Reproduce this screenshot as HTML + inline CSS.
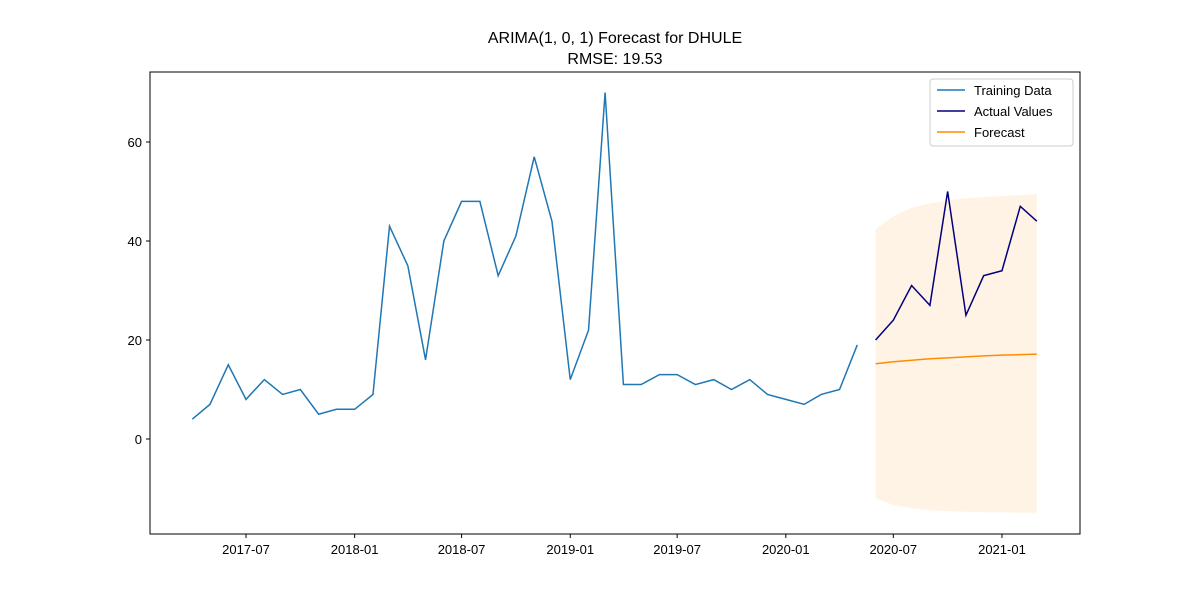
<!DOCTYPE html>
<html><head><meta charset="utf-8"><style>
body{margin:0;background:#fff;font-family:"Liberation Sans","DejaVu Sans",sans-serif;}
svg text{font-family:"Liberation Sans","DejaVu Sans",sans-serif;}
</style></head><body>
<svg id="chart" width="1200" height="600" xmlns="http://www.w3.org/2000/svg">
<rect width="1200" height="600" fill="#fff"/>
<text x="615" y="43" font-size="16" text-anchor="middle">ARIMA(1, 0, 1) Forecast for DHULE</text>
<text x="615" y="64" font-size="16" text-anchor="middle">RMSE: 19.53</text>
<g id="plot"></g>
</svg>
<script>
const trainStart = [2017, 4];
const trainValues = [4,7,15,8,12,9,10,5,6,6,9,43,35,16,40,48,48,33,41,57,44,12,22,70,11,11,13,13,11,12,10,12,9,8,7,9,10,19];
const testStart = [2020, 6];
const actualValues = [20,24,31,27,50,25,33,34,47,44];
const forecastValues = [15.2,15.6,15.9,16.2,16.4,16.6,16.8,16.95,17.05,17.15];
const ciUpper = [42.4,45,46.7,47.6,48.2,48.6,48.9,49.1,49.3,49.5];
const ciLower = [-12,-13.3,-14,-14.4,-14.6,-14.7,-14.8,-14.8,-14.9,-14.9];
const yTicks = [0,20,40,60];
const xTicks = ["2017-07","2018-01","2018-07","2019-01","2019-07","2020-01","2020-07","2021-01"];

const L=150,R=1080,T=72,B=534;
const NS='http://www.w3.org/2000/svg';
const g=document.getElementById('plot');
const ref=Date.UTC(2017,6,1);
function xs(y,m){return 246+(Date.UTC(y,m-1,1)-ref)/86400000*0.5906;}
function ys(v){return 439-v*4.95;}
function monthX(start,i){let m=start[1]-1+i;return xs(start[0]+Math.floor(m/12),(m%12)+1);}
function el(t,a){const e=document.createElementNS(NS,t);for(const k in a)e.setAttribute(k,a[k]);g.appendChild(e);return e;}

let pts=ciUpper.map((v,i)=>monthX(testStart,i)+','+ys(v));
for(let i=ciLower.length-1;i>=0;i--)pts.push(monthX(testStart,i)+','+ys(ciLower[i]));
const band=el('polygon',{points:pts.join(' '),fill:'#ff8c00','fill-opacity':0.1});



function line(vals,start,color,name){
  const p=el('polyline',{points:vals.map((v,i)=>monthX(start,i)+','+ys(v)).join(' '),fill:'none',stroke:color,'stroke-width':1.5});
  
  
}
line(trainValues,trainStart,'#1f77b4','training-line');
line(actualValues,testStart,'#000080','actual-line');
line(forecastValues,testStart,'#ff8c00','forecast-line');

const frame=el('rect',{x:L,y:T,width:R-L,height:B-T,fill:'none',stroke:'#000','stroke-width':1});



yTicks.forEach(v=>{
  const y=ys(v);
  el('line',{x1:L-4,x2:L,y1:y,y2:y,stroke:'#000'});
  const t=el('text',{x:L-8,y:y+5,'font-size':13,'text-anchor':'end'});t.textContent=v;
  
  
});
xTicks.forEach(s=>{
  const [yy,mm]=s.split('-').map(Number);const x=xs(yy,mm);
  el('line',{x1:x,x2:x,y1:B,y2:B+4,stroke:'#000'});
  const t=el('text',{x:x,y:B+20,'font-size':13,'text-anchor':'middle'});t.textContent=s;
  
  
});

const lg=el('rect',{x:930,y:79,width:143,height:67,fill:'#fff',stroke:'#ccc',rx:3});


[['Training Data','#1f77b4'],['Actual Values','#000080'],['Forecast','#ff8c00']].forEach((e,i)=>{
  const y=90+i*21;
  el('line',{x1:937,x2:965,y1:y,y2:y,stroke:e[1],'stroke-width':1.5});
  const t=el('text',{x:974,y:y+5,'font-size':13});t.textContent=e[0];
  
  
});
</script>
</body></html>
